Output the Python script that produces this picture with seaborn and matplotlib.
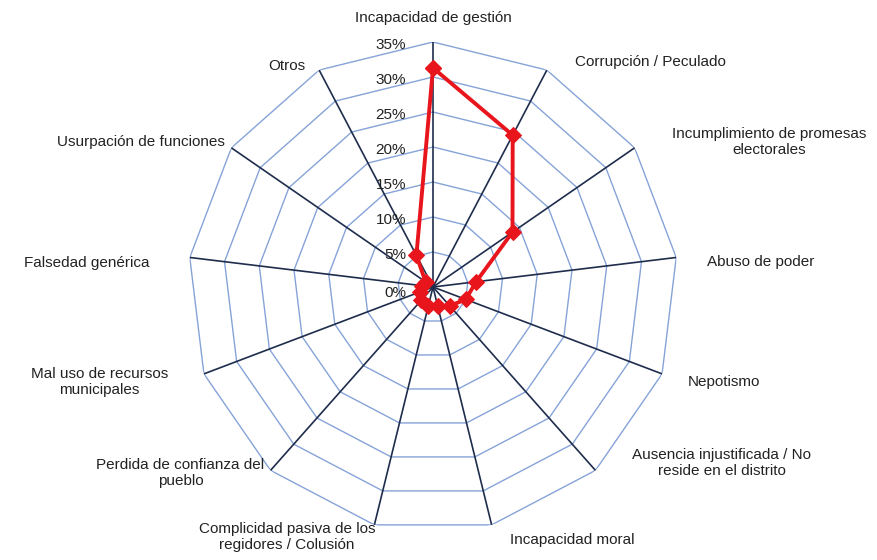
import numpy as np
import pandas as pd
import seaborn as sns
from matplotlib import pyplot as plt

# data
categories = [
    "Incapacidad de gestión",
    "Corrupción / Peculado",
    "Incumplimiento de promesas\nelectorales",
    "Abuso de poder",
    "Nepotismo",
    "Ausencia injustificada / No\nreside en el distrito",
    "Incapacidad moral",
    "Complicidad pasiva de los\nregidores / Colusión",
    "Perdida de confianza del\npueblo",
    "Mal uso de recursos\nmunicipales",
    "Falsedad genérica",
    "Usurpación de funciones",
    "Otros",
]
values = [31.3, 24.5, 13.8, 6.2, 5.0, 3.6, 2.8, 2.8, 2.5, 2.0, 1.6, 1.3, 5.1]
ring_levels = [0, 5, 10, 15, 20, 25, 30, 35]
ring_labels = ["0%", "5%", "10%", "15%", "20%", "25%", "30%", "35%"]

# label placement (pixel offsets from each spoke end, image y down)
LABEL_OFFSETS = [
    (0, -24, "center"), (28, -8, "left"), (37, -6, "left"), (31, 5, "left"),
    (26, 8, "left"), (37, -7, "left"), (18, 15, "left"), (1, 12, "right"),
    (-6, 3, "right"), (-36, 8, "right"), (-40, 6, "right"), (-6, -6, "right"),
    (-14, -4, "right"),
]

RING_COLOR = "#86a3d8"
SPOKE_COLOR = "#1f2d4d"
LINE_COLOR = "#e8161c"


def main():
    sns.set_style("white")
    plt.rcParams["font.family"] = ["Liberation Sans", "DejaVu Sans"]

    n = len(categories)
    angles = np.linspace(0, 2 * np.pi, n, endpoint=False)
    rmax = ring_levels[-1]

    fig = plt.figure(figsize=(8.78, 5.6), dpi=100)
    ax = fig.add_axes([188 / 878, 28 / 560, 490 / 878, 490 / 560], projection="polar")
    ax.set_theta_zero_location("N")
    ax.set_theta_direction(-1)
    ax.set_ylim(0, rmax)
    ax.grid(False)
    ax.spines["polar"].set_visible(False)
    ax.set_xticks([])
    ax.set_yticks([])

    closed = np.append(angles, angles[0])
    for lvl in ring_levels[1:]:
        ax.plot(closed, [lvl] * (n + 1), color=RING_COLOR, lw=1.0, zorder=1)
    for a in angles:
        ax.plot([a, a], [0, rmax], color=SPOKE_COLOR, lw=1.2, zorder=2)

    df = pd.DataFrame({"theta": np.append(angles, 2 * np.pi),
                       "value": values + [values[0]]})
    sns.lineplot(data=df, x="theta", y="value", ax=ax, sort=False, estimator=None,
                 color=LINE_COLOR, lw=2.8, marker="D", markersize=8,
                 markeredgecolor=LINE_COLOR, legend=False, zorder=5)
    ax.set_xlabel("")
    ax.set_ylabel("")
    ax.set_ylim(0, rmax)

    for lvl, lab in zip(ring_levels, ring_labels):
        ax.annotate(lab, xy=(0, lvl), xytext=(-27, -6 if lvl == 0 else -3),
                    textcoords="offset pixels", ha="right", va="center",
                    fontsize=11, color="#222222")

    for a, cat, (dx, dy, ha) in zip(angles, categories, LABEL_OFFSETS):
        ax.annotate(cat, xy=(a, rmax), xytext=(dx, -dy), textcoords="offset pixels",
                    ha=ha, va="center", multialignment="center",
                    fontsize=11, color="#222222", annotation_clip=False)

    fig.savefig("out.png", dpi=100, facecolor="white")


if __name__ == '__main__':
    main()
